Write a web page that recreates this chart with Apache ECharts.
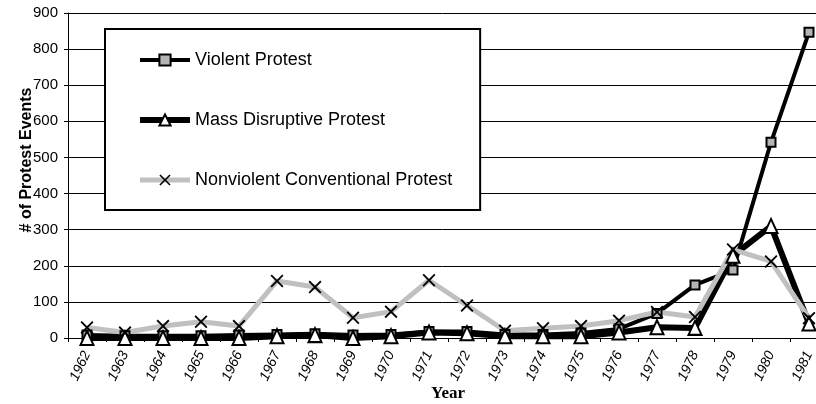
<!DOCTYPE html>
<html>
<head>
<meta charset="utf-8">
<script src="https://cdn.jsdelivr.net/npm/echarts@6/dist/echarts.min.js"></script>
<style>
html, body { margin: 0; padding: 0; background: #fff; }
#chart { width: 816px; height: 404px; }
</style>
</head>
<body>
<div id="chart"></div>
<script>
// data
const years = ['1962', '1963', '1964', '1965', '1966', '1967', '1968', '1969', '1970', '1971',
  '1972', '1973', '1974', '1975', '1976', '1977', '1978', '1979', '1980', '1981']
const violent = [8, 6, 6, 6, 8, 10, 12, 8, 10, 18, 18, 10, 10, 14, 25, 68, 147, 188, 542, 847]
const massDisruptive = [0, 0, 0, 0, 0, 5, 8, 0, 5, 15, 13, 5, 5, 5, 15, 30, 28, 228, 310, 40]
const nonviolent = [29, 15, 33, 45, 33, 158, 141, 56, 73, 160, 90, 20, 27, 33, 48, 72, 58, 245, 212, 55]

const X_SYMBOL = 'path://M0,2 L2,0 L10,8 L18,0 L20,2 L12,10 L20,18 L18,20 L10,12 L2,20 L0,18 L8,10 Z'

let chart = echarts.init(document.getElementById('chart'))
let chartOpt = {
  animation: false,
  backgroundColor: '#fff',
  textStyle: { fontFamily: 'Liberation Sans, Arial, sans-serif' },
  grid: { left: 68, right: -12, top: 13, bottom: 66, containLabel: false, outerBoundsMode: 'none' },
  legend: {
    orient: 'vertical',
    left: 105,
    top: 29,
    padding: [22, 28, 21, 32],
    itemGap: 42,
    itemWidth: 50,
    itemHeight: 14,
    borderColor: '#000',
    borderWidth: 2,
    backgroundColor: '#fff',
    textStyle: { fontSize: 18, lineHeight: 18, color: '#000' },
    data: [
      { name: 'Violent Protest', lineStyle: { width: 4 } },
      { name: 'Mass Disruptive Protest', lineStyle: { width: 6 } },
      { name: 'Nonviolent Conventional Protest', lineStyle: { width: 5 } }
    ]
  },
  xAxis: {
    type: 'category',
    data: years,
    name: 'Year',
    nameLocation: 'middle',
    nameGap: 47,
    nameMoveOverlap: false,
    nameTextStyle: { fontFamily: 'Liberation Serif', fontWeight: 'bold', fontSize: 17, color: '#000' },
    axisLine: { lineStyle: { color: '#000', width: 1 } },
    axisTick: { show: true, length: 4, lineStyle: { color: '#000' } },
    axisLabel: { rotate: 65, margin: 14, fontSize: 14, fontStyle: 'italic', color: '#000' },
    splitLine: { show: false }
  },
  yAxis: {
    type: 'value',
    min: 0,
    max: 900,
    interval: 100,
    axisLine: { show: true, lineStyle: { color: '#000', width: 1 } },
    axisTick: { show: true, length: 4, lineStyle: { color: '#000' } },
    axisLabel: { fontSize: 15, margin: 10, color: '#000' },
    splitLine: { lineStyle: { color: '#000', width: 1 } }
  },
  graphic: [{
    type: 'text',
    x: 27,
    y: 160,
    rotation: Math.PI / 2,
    style: {
      text: '# of Protest Events',
      font: 'bold 16px "Liberation Sans", Arial, sans-serif',
      fill: '#000',
      textAlign: 'center',
      textVerticalAlign: 'middle'
    }
  }],
  series: [{
    name: 'Violent Protest',
    type: 'line',
    data: violent,
    symbol: 'rect',
    symbolSize: 9,
    lineStyle: { color: '#000', width: 4 },
    itemStyle: { color: '#b4b4b4', borderColor: '#000', borderWidth: 2 }
  }, {
    name: 'Mass Disruptive Protest',
    type: 'line',
    data: massDisruptive,
    symbol: 'triangle',
    symbolSize: [13, 14],
    lineStyle: { color: '#000', width: 6 },
    itemStyle: { color: '#fff', borderColor: '#000', borderWidth: 2 }
  }, {
    name: 'Nonviolent Conventional Protest',
    type: 'line',
    data: nonviolent,
    symbol: X_SYMBOL,
    symbolSize: 13,
    lineStyle: { color: '#c0c0c0', width: 5 },
    itemStyle: { color: '#000', borderWidth: 0 }
  }]
}

chart.setOption(chartOpt)
</script>
</body>
</html>
